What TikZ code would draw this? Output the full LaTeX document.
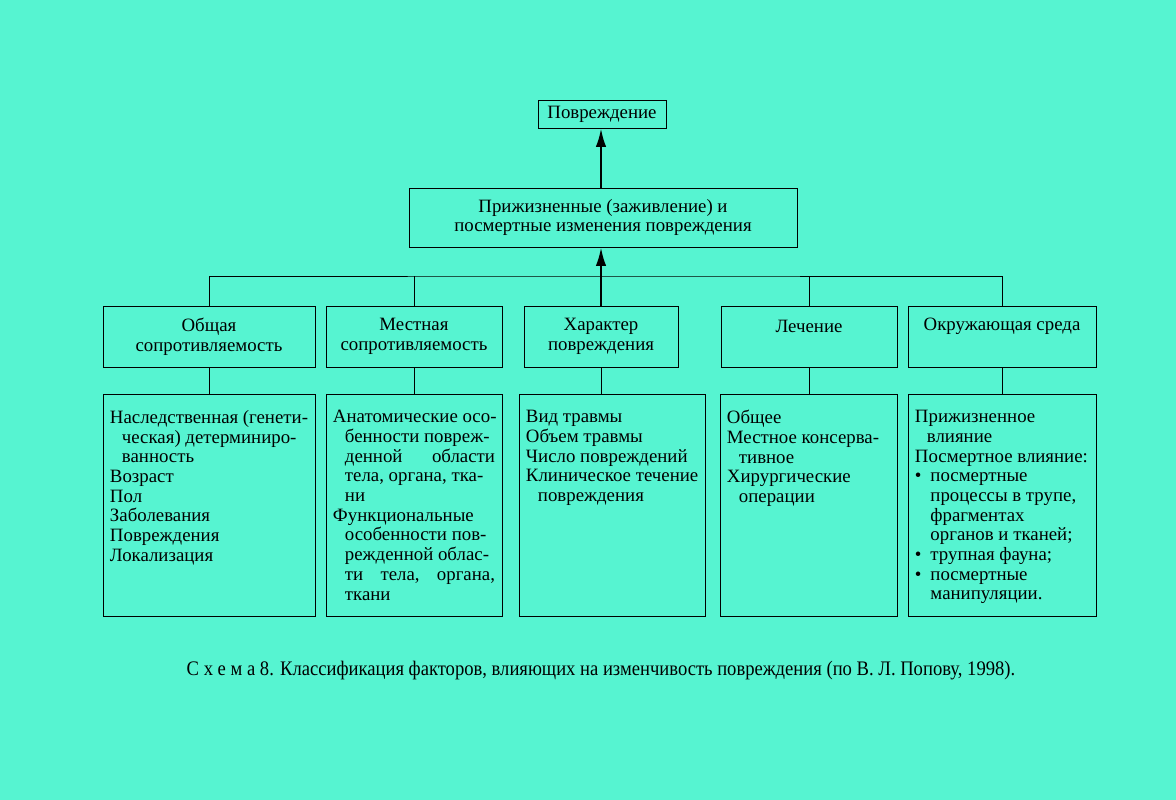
\documentclass[tikz,border=0pt]{standalone}
\usepackage{fontspec}
\setmainfont{Liberation Serif}
\newfontfamily\capfont[FakeStretch=0.9]{Liberation Serif}
\usetikzlibrary{arrows.meta, positioning}
\definecolor{bgcol}{RGB}{86,244,209}
\setlength{\parindent}{0pt}
\newcommand{\ind}{\hspace*{8.5pt}}
\newcommand{\bul}{\makebox[11pt][l]{\textbullet}}
\newcommand{\bind}{\hspace*{11pt}}

\begin{document}
\begin{tikzpicture}[
    x=0.025cm, y=-0.025cm,
    font=\fontsize{13.4}{14}\selectfont,
    result/.style={rectangle, draw=black, line width=0.6pt, align=center, inner sep=0pt},
    factor/.style={rectangle, draw=black, line width=0.6pt, align=center, minimum height=1.525cm, inner sep=0pt},
    detail/.style={rectangle, draw=black, line width=0.6pt, inner xsep=0.175cm, inner ysep=0.4cm, anchor=north},
    link/.style={line width=0.6pt},
    arrow/.style={line width=1.6pt,-{Latex[length=4.6mm,width=2.6mm]}}
]

\fill[bgcol] (0,0) rectangle (1176,800);
\useasboundingbox (0,0) rectangle (1176,800);

% Result
\node[result, minimum width=3.2cm, minimum height=0.7cm] (povr) at (602,114) {Повреждение};
\node[result, minimum width=9.7cm, minimum height=1.475cm] (izmen) at (603,217.5) {Прижизненные (заживление) и\\посмертные изменения повреждения};

% Factors
\node[factor, minimum width=5.3cm] (obsh_sopr) at (209,336.5) {Общая\\сопротивляемость};
\node[factor, minimum width=4.4cm] (mest_sopr) at (414,336.5) {Местная\\сопротивляемость};
\node[factor, minimum width=3.85cm] (kharakter) at (601,336.5) {Характер\\повреждения};
\node[factor, minimum width=4.4cm] (lechenie) at (809,336.5) {Лечение\\\phantom{Лечение}};
\node[factor, minimum width=4.7cm] (sreda) at (1002,336.5) {Окружающая среда\\\phantom{среда}};

% Factor contents
\node[detail] (obsh_list) at (209,394) {\parbox[t][4.75cm][t]{4.95cm}{%
Наследственная (генети-\\
\ind ческая) детерминиро-\\
\ind ванность\\
Возраст\\
Пол\\
Заболевания\\
Повреждения\\
Локализация}};
\node[detail] (mest_list) at (414,394) {\parbox[t][4.75cm][t]{4.05cm}{%
\mbox{Анатомические осо-}\\
\ind бенности повреж-\\
\ind денной\hfill области\\
\ind тела, органа, тка-\\
\ind ни\\
Функциональные\\
\ind особенности пов-\\
\ind режденной облас-\\
\ind ти\hfill тела,\hfill органа,\\
\ind ткани}};
\node[detail] (kharakter_list) at (612,394) {\parbox[t][4.75cm][t]{4.3cm}{%
Вид травмы\\
Объем травмы\\
Число повреждений\\
\mbox{Клиническое течение}\\
\ind повреждения}};
\node[detail] (lechenie_list) at (808.5,394) {\parbox[t][4.75cm][t]{4.075cm}{%
Общее\\
Местное консерва-\\
\ind тивное\\
Хирургические\\
\ind операции}};
\node[detail] (sreda_list) at (1002,394) {\parbox[t][4.75cm][t]{4.35cm}{%
Прижизненное\\
\ind влияние\\
Посмертное влияние:\\
\bul посмертные\\
\bind процессы в трупе,\\
\bind фрагментах\\
\bind органов и тканей;\\
\bul трупная фауна;\\
\bul посмертные\\
\bind манипуляции.}};

% Connections
\coordinate (bus) at (602,276);
\draw[link] (obsh_sopr.north) |- (bus) -| (sreda.north);
\draw[link] (mest_sopr.north) -- (mest_sopr.north |- bus);
\draw[link] (lechenie.north) -- (lechenie.north |- bus);
\draw[arrow] (kharakter.north) -- (kharakter.north |- izmen.south);
\draw[arrow] (kharakter.north |- izmen.north) -- (kharakter.north |- povr.south);

\draw[link] (obsh_sopr.south) -- (obsh_list.north);
\draw[link] (mest_sopr.south) -- (mest_list.north);
\draw[link] (kharakter.south) -- (kharakter.south |- kharakter_list.north);
\draw[link] (lechenie.south) -- (lechenie.south |- lechenie_list.north);
\draw[link] (sreda.south) -- (sreda_list.north);

\node[font=\capfont\fontsize{14.7}{16}\selectfont] (caption) at (601,671) {С х е м а 8. Классификация факторов, влияющих на изменчивость повреждения (по В. Л. Попову, 1998).};

\end{tikzpicture}
\end{document}
